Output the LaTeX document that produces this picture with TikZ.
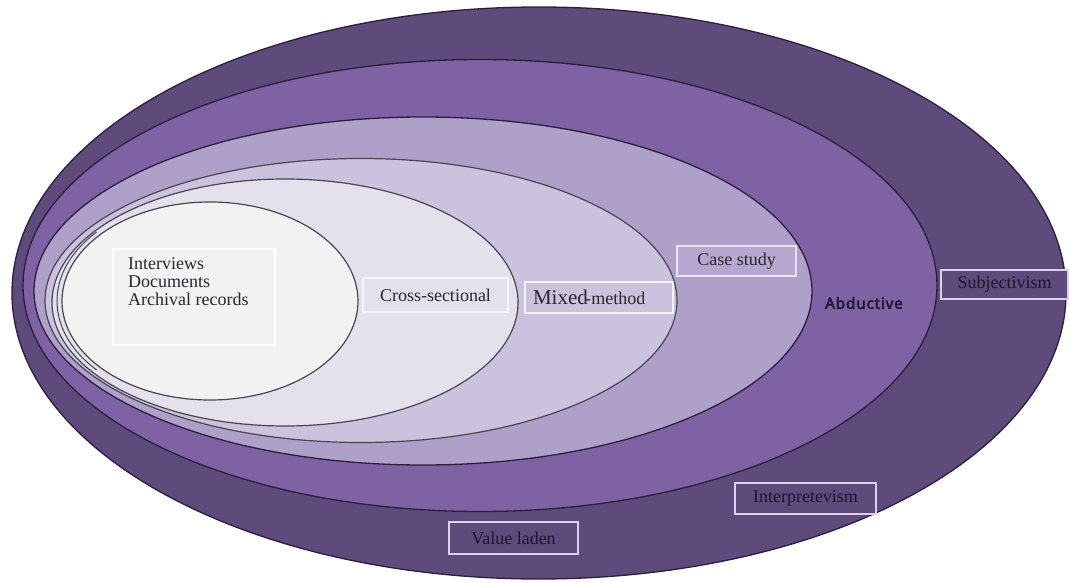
\documentclass[tikz,border=0pt]{standalone}
\usepackage{fontspec}
\setmainfont{Liberation Serif}
\newfontfamily\labsans[LetterSpace=5, FakeBold=3]{Open Sans}

% ring fills, from the outermost layer inwards
\definecolor{ringA}{HTML}{5E4A7B}
\definecolor{ringB}{HTML}{7E62A3}
\definecolor{ringC}{HTML}{AEA0C8}
\definecolor{ringD}{HTML}{CBC3DD}
\definecolor{ringE}{HTML}{E4E0EC}
\definecolor{ringF}{HTML}{F2F2F2}
\definecolor{edgeDark}{HTML}{2B1F3D}
\definecolor{edgeGray}{HTML}{4A4550}
\definecolor{inkDark}{HTML}{1E1530}
\definecolor{inkGray}{HTML}{2A2630}
\definecolor{tagLine}{HTML}{DCD0EA}
\definecolor{tagLineLight}{HTML}{F6F4FA}
\definecolor{caseFill}{HTML}{B5A7CD}

\tikzset{
  ring/.style={draw=edgeDark, line width=1.3pt},
  innerring/.style={draw=edgeGray, line width=1.2pt},
  tag/.style={draw=tagLine, line width=1.4pt, inner sep=0pt,
    font=\fontsize{18}{18}\selectfont, text=inkDark},
  lighttag/.style={tag, draw=tagLineLight, text=inkGray},
}

\begin{document}
\begin{tikzpicture}[x=1pt,y=-1pt]
\useasboundingbox (0,0) rectangle (1069,583);
\fill[white] (0,0) rectangle (1069,583);

% nested layers
\filldraw[ring, fill=ringA] (539,293) ellipse [x radius=527pt, y radius=286pt];
\filldraw[ring, fill=ringB] (480,285.5) ellipse [x radius=457pt, y radius=226pt];
\filldraw[ring, fill=ringC] (423,291) ellipse [x radius=389pt, y radius=174pt];
\filldraw[innerring, fill=ringD] (361,300.5) ellipse [x radius=316pt, y radius=142pt];
\filldraw[innerring, fill=ringE] (285,302.5) ellipse [x radius=233pt, y radius=123.5pt];
\draw[innerring, line width=1pt] ([shift={(138:154pt and 103pt)}]211,301)
  arc [start angle=138, end angle=222, x radius=154pt, y radius=103pt];
\filldraw[innerring, fill=ringF] (210,301) ellipse [x radius=148pt, y radius=99pt];

% data collection box
\node[lighttag, fill=ringF, draw=white, minimum width=162pt, minimum height=96pt] (srcbox) at (194,297) {};
\node[anchor=base west, align=left, inner sep=0pt, text=inkGray,
      font=\fontsize{18}{18}\selectfont] (srcs) at (128,305)
  {Interviews\\Documents\\Archival records};

% layer labels
\node[lighttag, fill=ringE, minimum width=145pt, minimum height=34pt] (cross) at (435.5,295) {Cross-sectional};
\node[lighttag, fill=ringD, minimum width=148pt, minimum height=31pt, text width=142pt, align=left] (mixed) at (599,297.5)
  {\hspace*{5pt}{\fontsize{21}{21}\selectfont Mixed}\kern-3pt-\kern0.5pt{\fontsize{18}{18}\selectfont method}};
\node[lighttag, fill=caseFill, draw=tagLineLight!80!ringC, minimum width=119pt, minimum height=30pt] (case) at (736.5,261) {Case study};
\node[text=inkDark, inner sep=0pt, font=\labsans\fontsize{15.5}{15.5}\selectfont] (abd) at (864,303) {Abductive};
\node[tag, fill=ringA, minimum width=127pt, minimum height=29pt] (subj) at (1004.5,284.5) {Subjectivism};
\node[tag, fill=ringA, minimum width=141pt, minimum height=31pt] (interp) at (805.5,498.5) {Interpretevism};
\node[tag, fill=ringA, minimum width=129pt, minimum height=32pt] (value) at (513.5,538) {Value laden};
\end{tikzpicture}
\end{document}
